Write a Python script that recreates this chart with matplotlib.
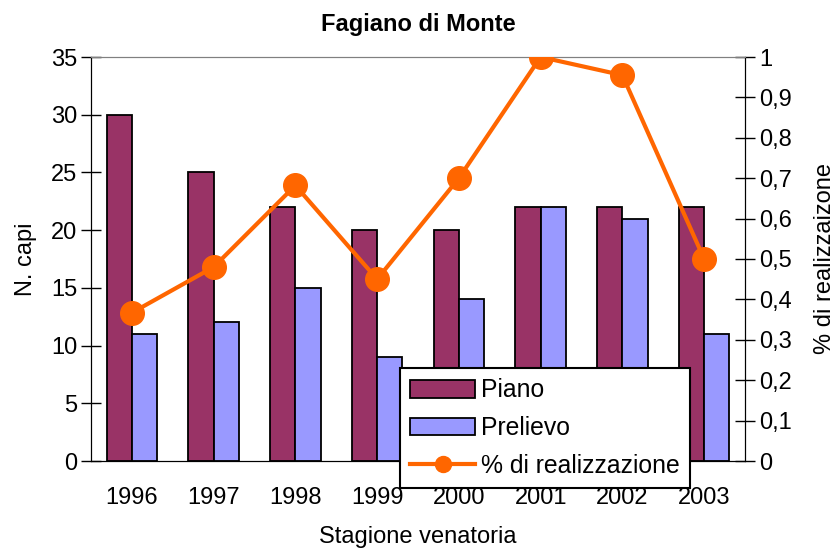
import matplotlib
matplotlib.use("Agg")
import matplotlib.pyplot as plt
import numpy as np
from matplotlib.ticker import FuncFormatter
from matplotlib.lines import Line2D

plt.rcParams['font.family'] = ['Liberation Sans', 'DejaVu Sans']

years = ["1996", "1997", "1998", "1999", "2000", "2001", "2002", "2003"]
piano = [30, 25, 22, 20, 20, 22, 22, 22]
prelievo = [11, 12, 15, 9, 14, 22, 21, 11]
realizzazione = [0.367, 0.48, 0.682, 0.45, 0.70, 1.0, 0.955, 0.50]

FS = 17

fig = plt.figure(figsize=(8.36, 5.52), dpi=100)
ax = fig.add_axes([91/836, 1 - 461/552, 654/836, 404/552])
ax2 = ax.twinx()

x = np.arange(len(years))
w = 0.31
b1 = ax.bar(x - w/2, piano, w, color='#993366', edgecolor='black', linewidth=1.3, label='Piano', zorder=2)
b2 = ax.bar(x + w/2, prelievo, w, color='#9999FF', edgecolor='black', linewidth=1.3, label='Prelievo', zorder=2)

ax.set_xlim(-0.5, len(years) - 0.5)
ax.set_ylim(0, 35)
ax.set_yticks(range(0, 36, 5))
ax.set_xticks(x)
ax.set_xticklabels(years)
ax.tick_params(axis='x', length=0, labelsize=FS, pad=19)
ax.tick_params(axis='y', direction='inout', length=14, width=1, labelsize=FS, pad=3)

ln, = ax2.plot(x, realizzazione, color='#FF6600', linewidth=3, marker='o', markersize=17,
               label='% di realizzazione', zorder=3)
ax2.set_ylim(0, 1)
ax2.set_yticks(np.arange(0, 1.01, 0.1))
ax2.yaxis.set_major_formatter(FuncFormatter(lambda v, p: ('%g' % round(v, 1)).replace('.', ',')))
ax2.tick_params(axis='y', direction='inout', length=14, width=1, labelsize=FS, pad=3)

for a in (ax, ax2):
    a.spines['top'].set_color('#808080')
    a.spines['left'].set_color('black')
    a.spines['right'].set_color('black')
    a.spines['bottom'].set_color('black')

ax.set_ylabel('N. capi', fontsize=FS, labelpad=10)
ax2.set_ylabel('% di realizzaizone', fontsize=FS, labelpad=16)
ax.set_xlabel('Stagione venatoria', fontsize=FS, labelpad=12)
ax.set_title('Fagiano di Monte', fontsize=FS, fontweight='bold', pad=19)

ln_handle = Line2D([], [], color='#FF6600', linewidth=3, marker='o', markersize=11.5)
leg = fig.legend(handles=[b1, b2, ln_handle], labels=['Piano', 'Prelievo', '% di realizzazione'],
                 loc='upper left',
                 bbox_to_anchor=(400/836, 1 - 368/552), fontsize=17.8,
                 frameon=True, fancybox=False, edgecolor='black', framealpha=1,
                 handlelength=2.6, handleheight=0.72, borderpad=0.42, labelspacing=0.55,
                 handletextpad=0.25, borderaxespad=0)
leg.get_frame().set_linewidth(1.5)
leg.set_zorder(10)

fig.savefig('out.png', dpi=100)
